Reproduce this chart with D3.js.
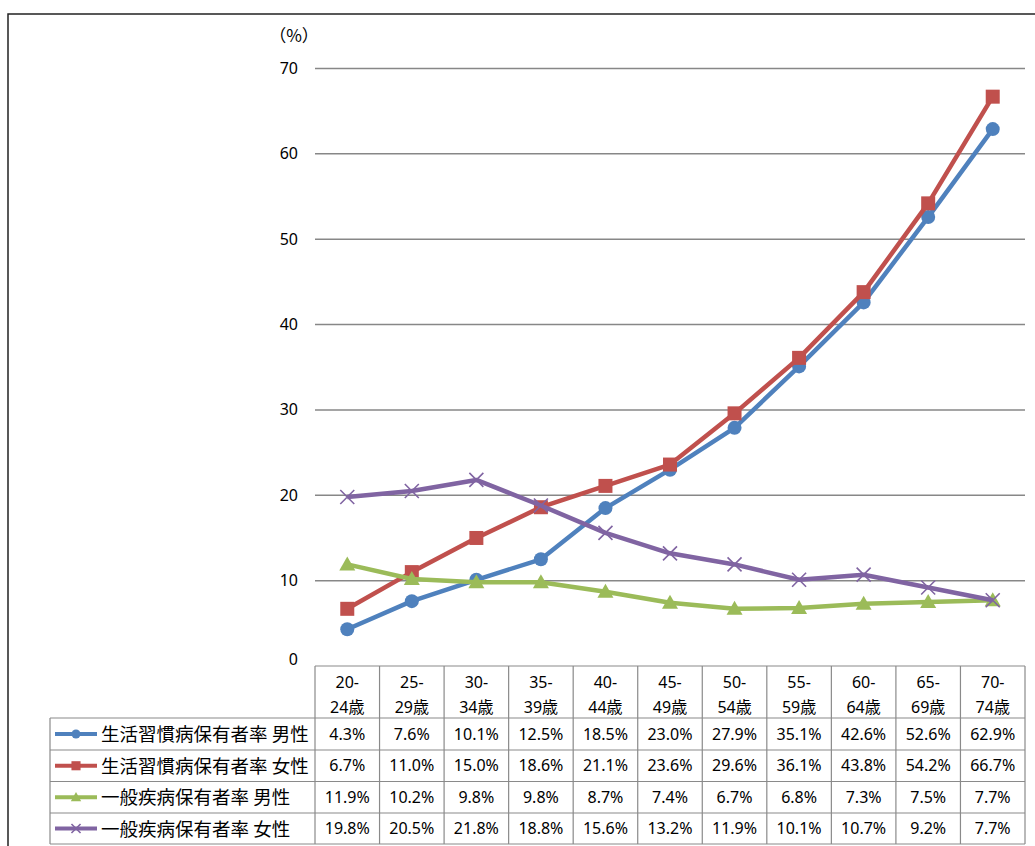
<!DOCTYPE html>
<html><head><meta charset="utf-8">
<script src="https://cdn.jsdelivr.net/npm/d3@7"></script>
<style>body{margin:0;background:#fff}svg{display:block}</style>
</head><body>
<svg id="c" width="1035" height="846"></svg>
<script>
const categories = ["20-24歳","25-29歳","30-34歳","35-39歳","40-44歳","45-49歳","50-54歳","55-59歳","60-64歳","65-69歳","70-74歳"];
const seriesNames = ["生活習慣病保有者率 男性","生活習慣病保有者率 女性","一般疾病保有者率 男性","一般疾病保有者率 女性"];
const lifestyleMale   = [4.3,7.6,10.1,12.5,18.5,23.0,27.9,35.1,42.6,52.6,62.9];
const lifestyleFemale = [6.7,11.0,15.0,18.6,21.1,23.6,29.6,36.1,43.8,54.2,66.7];
const generalMale     = [11.9,10.2,9.8,9.8,8.7,7.4,6.7,6.8,7.3,7.5,7.7];
const generalFemale   = [19.8,20.5,21.8,18.8,15.6,13.2,11.9,10.1,10.7,9.2,7.7];
const yTicks = [0,10,20,30,40,50,60,70];

(function(){
const colors = ["#4F81BD","#C0504D","#9BBB59","#8064A2"];
const markers = ["circle","square","triangle","cross"];
const series = [lifestyleMale,lifestyleFemale,generalMale,generalFemale];
const FONT = "'Noto Sans CJK JP', 'Noto Sans', sans-serif";
const NUMFONT = "'Noto Sans', 'Open Sans', sans-serif";

const svg = d3.select("#c");
const pLeft = 315, pRight = 1025, pTop = 68.5, pBottom = 666;
const x = d3.scaleBand().domain(categories).range([pLeft,pRight]);
const y = d3.scaleLinear().domain([0,70]).range([pBottom,pTop]);

svg.append("rect").attr("x",8).attr("y",14).attr("width",1100).attr("height",900)
  .attr("fill","none").attr("stroke","#222").attr("stroke-width",1.5);

svg.append("g").selectAll("line").data(yTicks.filter(d=>d>0)).join("line")
  .attr("x1",pLeft).attr("x2",pRight).attr("y1",d=>y(d)).attr("y2",d=>y(d))
  .attr("stroke","#878787").attr("stroke-width",1.5);
svg.append("g").selectAll("text").data(yTicks).join("text")
  .attr("x",298).attr("y",d=>y(d)+ (d===0?-1:5.5)).attr("text-anchor","end")
  .attr("font-family",NUMFONT).attr("font-size",16).attr("fill","#000").text(d=>d);
svg.append("text").attr("x",294).attr("y",42).attr("text-anchor","middle")
  .attr("font-family",FONT).attr("font-size",17).text("（%）");

function drawMarker(g, type, cx, cy, color, s) {
  if (type==="circle") g.append("circle").attr("cx",cx).attr("cy",cy).attr("r",7*s).attr("fill",color);
  else if (type==="square") g.append("rect").attr("x",cx-7*s).attr("y",cy-7*s).attr("width",14*s).attr("height",14*s).attr("fill",color);
  else if (type==="triangle") g.append("path").attr("d",`M${cx},${cy-8*s}L${cx+8*s},${cy+6*s}L${cx-8*s},${cy+6*s}Z`).attr("fill",color);
  else g.append("path").attr("d",`M${cx-7*s},${cy-7*s}L${cx+7*s},${cy+7*s}M${cx+7*s},${cy-7*s}L${cx-7*s},${cy+7*s}`).attr("stroke",color).attr("stroke-width",1.6);
}

const line = d3.line().x((d,i)=>x(categories[i])+x.bandwidth()/2).y(d=>y(d));
series.forEach((vals,si)=>{
  const g = svg.append("g");
  g.append("path").datum(vals).attr("d",line).attr("fill","none")
    .attr("stroke",colors[si]).attr("stroke-width",4.5).attr("stroke-linejoin","round");
  vals.forEach((v,i)=>drawMarker(g, markers[si], x(categories[i])+x.bandwidth()/2, y(v), colors[si], 1));
});

const tg = svg.append("g");
const headerBottom = 718;
const rowYs = [718,750,781.5,813,844];
const tableLeft = 50;
const gridColor = "#8a8a8a";
tg.append("line").attr("x1",pLeft).attr("x2",pRight).attr("y1",pBottom).attr("y2",pBottom).attr("stroke",gridColor).attr("stroke-width",1.2);
rowYs.forEach(ry=>tg.append("line").attr("x1",tableLeft).attr("x2",pRight).attr("y1",ry).attr("y2",ry).attr("stroke",gridColor).attr("stroke-width",1.2));
const bounds = categories.map(c=>x(c)).concat([pRight]);
bounds.forEach(bx=>tg.append("line").attr("x1",bx).attr("x2",bx).attr("y1",pBottom).attr("y2",rowYs[rowYs.length-1]).attr("stroke",gridColor).attr("stroke-width",1.2));
tg.append("line").attr("x1",tableLeft).attr("x2",tableLeft).attr("y1",headerBottom).attr("y2",rowYs[rowYs.length-1]).attr("stroke",gridColor).attr("stroke-width",1.2);

categories.forEach(c=>{
  const cx = x(c)+x.bandwidth()/2;
  const m = c.match(/^(\d+-)(.*)$/);
  tg.append("text").attr("x",cx).attr("y",688).attr("text-anchor","middle").attr("font-family",NUMFONT).attr("font-size",16).text(m[1]);
  const t2 = tg.append("text").attr("x",cx).attr("y",713).attr("text-anchor","middle").attr("font-size",16);
  t2.append("tspan").attr("font-family",NUMFONT).text(m[2].replace("歳",""));
  t2.append("tspan").attr("font-family",FONT).text("歳");
});
series.forEach((vals,si)=>{
  const cy = (rowYs[si]+rowYs[si+1])/2;
  tg.append("line").attr("x1",55).attr("x2",97).attr("y1",cy).attr("y2",cy).attr("stroke",colors[si]).attr("stroke-width",4);
  drawMarker(tg, markers[si], 76, cy, colors[si], 0.65);
  tg.append("text").attr("x",101).attr("y",cy+7).attr("font-family",FONT).attr("font-size",18.5).attr("fill","#000").text(seriesNames[si]);
  vals.forEach((v,i)=>{
    tg.append("text").attr("x",x(categories[i])+x.bandwidth()/2).attr("y",cy+5.5)
      .attr("text-anchor","middle").attr("font-family",NUMFONT).attr("font-size",16).attr("fill","#000")
      .text(v.toFixed(1)+"%");
  });
});
})();
</script>
</body></html>
